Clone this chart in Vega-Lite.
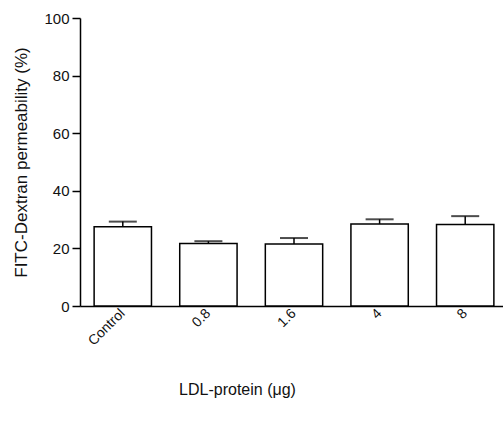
{
  "$schema": "https://vega.github.io/schema/vega-lite/v6.json",
  "autosize": "none",
  "padding": {"left": 80, "top": 18, "right": 0, "bottom": 97},
  "width": 428,
  "height": 288,
  "background": "white",
  "config": {
    "view": {"stroke": null},
    "font": "Liberation Sans",
    "axis": {"domainColor": "black", "tickColor": "black", "labelColor": "#111", "titleColor": "#111", "grid": false, "labelFont": "Liberation Sans", "titleFont": "Liberation Sans", "titleFontWeight": "normal"}
  },
  "data": {
    "values": [
      {"group": "Control", "mean": 27.5, "upper": 29.3},
      {"group": "0.8", "mean": 21.7, "upper": 22.5},
      {"group": "1.6", "mean": 21.5, "upper": 23.6},
      {"group": "4", "mean": 28.5, "upper": 30.1},
      {"group": "8", "mean": 28.3, "upper": 31.2}
    ]
  },
  "encoding": {
    "x": {
      "field": "group",
      "type": "nominal",
      "sort": null,
      "scale": {"paddingInner": 0.33, "paddingOuter": 0.165},
      "axis": {
        "title": "LDL-protein (μg)",
        "labelAngle": -45,
        "labelAlign": "right",
        "labelBaseline": "middle",
        "labelFontSize": 14,
        "labelPadding": 5,
        "ticks": false,
        "domainWidth": 1.5,
        "titleFontSize": 16,
        "titleX": 157,
        "titleY": 75,
        "titleAnchor": null
      }
    }
  },
  "layer": [
    {
      "mark": {"type": "rule", "color": "black", "strokeWidth": 1.5},
      "encoding": {
        "y": {"field": "mean", "type": "quantitative"},
        "y2": {"field": "upper"}
      }
    },
    {
      "mark": {"type": "bar", "fill": "white", "stroke": "black", "strokeWidth": 1.5},
      "encoding": {
        "y": {
          "field": "mean",
          "type": "quantitative",
          "scale": {"domain": [0, 100], "nice": false},
          "axis": {
            "title": "FITC-Dextran permeability (%)",
            "values": [0, 20, 40, 60, 80, 100],
            "labelFontSize": 15,
            "labelPadding": 3,
            "tickSize": 8,
            "tickWidth": 1.5,
            "domainWidth": 1.5,
            "titleFontSize": 17,
            "titleX": -59,
            "titleY": 144,
            "titleAngle": -90,
            "titleAlign": "center",
            "titleBaseline": "middle",
            "titleAnchor": null
          }
        }
      }
    },
    {
      "mark": {"type": "tick", "color": "black", "size": 28, "thickness": 2, "orient": "horizontal"},
      "encoding": {
        "y": {"field": "upper", "type": "quantitative"}
      }
    }
  ]
}
